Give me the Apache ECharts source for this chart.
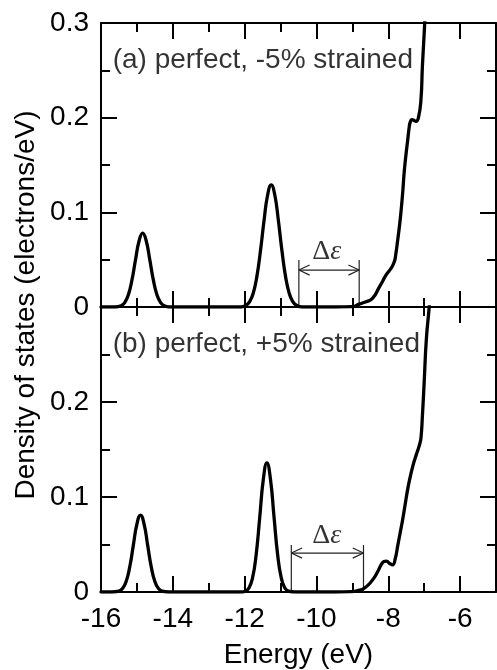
<!DOCTYPE html>
<html><head><meta charset="utf-8">
<script src="https://cdn.jsdelivr.net/npm/echarts@6/dist/echarts.min.js"></script>
<style>html,body{margin:0;padding:0;background:#fff}#c{width:497px;height:670px}</style>
</head><body><div id="c"></div>
<script>
// ---- data ----
const xMin = -16, xMax = -5;
const yMin = 0, yMax = 0.3;
const xTitle = 'Energy (eV)';
const yTitle = 'Density of states (electrons/eV)';
const panelLabels = ['(a) perfect, -5% strained', '(b) perfect, +5% strained'];

const energyA = [-16, -15.6, -15.44, -15.34, -15.24, -15.14, -15.04, -14.94, -14.84, -14.74, -14.64, -14.54, -14.44, -14.34, -14.24, -14.1,
  -12.1, -11.96, -11.86, -11.76, -11.66, -11.56, -11.46, -11.36, -11.26, -11.16, -11.06, -10.96, -10.86, -10.76, -10.66, -10.56, -10.4,
  -9.5, -9.0, -8.81, -8.62, -8.44, -8.25, -8.16, -8.06, -7.92, -7.83, -7.79, -7.74, -7.69, -7.65, -7.6, -7.56, -7.51, -7.46, -7.42, -7.39,
  -7.34, -7.28, -7.23, -7.16, -7.09, -7.05, -7.0, -6.96, -6.9];
const dosA = [0, 0, 0.0013, 0.0046, 0.0127, 0.0281, 0.0496, 0.0697, 0.078, 0.0697, 0.0496, 0.0281, 0.0127, 0.0046, 0.0013, 0,
  0, 0.0018, 0.0057, 0.0147, 0.0321, 0.0591, 0.0912, 0.1183, 0.129, 0.1183, 0.0912, 0.0591, 0.0321, 0.0147, 0.0057, 0.0018, 0,
  0, 0.0005, 0.003, 0.0056, 0.009, 0.021, 0.027, 0.034, 0.041, 0.048, 0.056, 0.07, 0.085, 0.099, 0.12, 0.141, 0.16, 0.176, 0.189, 0.195,
  0.198, 0.197, 0.196, 0.2, 0.219, 0.254, 0.289, 0.32, 0.37];

const energyB = [-16, -15.7, -15.5, -15.4, -15.3, -15.2, -15.1, -15.0, -14.9, -14.8, -14.7, -14.6, -14.5, -14.4, -14.3, -14.1,
  -12.1, -11.98, -11.88, -11.78, -11.68, -11.58, -11.48, -11.38, -11.28, -11.18, -11.08, -10.98, -10.88, -10.78, -10.6,
  -9.5, -9.0, -8.8, -8.71, -8.57, -8.43, -8.3, -8.2, -8.12, -8.05, -7.96, -7.88, -7.8, -7.74, -7.67, -7.6, -7.53, -7.46, -7.39,
  -7.32, -7.25, -7.19, -7.13, -7.09, -7.05, -7.0, -6.94, -6.86, -6.8];
const dosB = [0, 0, 0.0009, 0.0036, 0.011, 0.0263, 0.0491, 0.0715, 0.081, 0.0715, 0.0491, 0.0263, 0.011, 0.0036, 0.0009, 0,
  0, 0.0009, 0.0043, 0.0148, 0.039, 0.0782, 0.1184, 0.136, 0.1184, 0.0782, 0.039, 0.0148, 0.0043, 0.0009, 0,
  0, 0.0005, 0.002, 0.003, 0.007, 0.013, 0.021, 0.0285, 0.032, 0.0325, 0.03, 0.0285, 0.036, 0.048, 0.062, 0.076, 0.092, 0.108, 0.121,
  0.132, 0.141, 0.148, 0.155, 0.162, 0.185, 0.221, 0.266, 0.30, 0.33];

// gap annotation (energies of the two bars, arrow height, bar height, label position)
const gapA = [-10.49, -8.81], arrowYA = 0.039;
const gapB = [-10.7, -8.69], arrowYB = 0.041;
const gapBarTop = 0.0496;
const gapLabelPos = [[-9.71, 0.059], [-9.71, 0.059]];
const panelLabelPos = [[-15.69, 0.261], [-15.69, 0.261]];

// ---- chart ----
const FAMILY = 'Liberation Sans';
const FONT = '"Liberation Sans", Arial, sans-serif';
const SERIF = '"Liberation Serif", "Times New Roman", serif';
const zip = (a, b) => a.map((v, i) => [v, b[i]]);
const blk = '#000';

function xAx(grid, pos, major, labels) {
  return {
    type: 'value', gridIndex: grid, position: pos, min: xMin, max: xMax,
    interval: major ? 2 : 1,
    axisLine: { show: major, onZero: false, lineStyle: { color: blk, width: 2 } },
    axisTick: { show: true, inside: true, length: major ? 16 : 9, lineStyle: { color: blk, width: 2 } },
    axisLabel: { show: labels, color: blk, fontSize: 28, fontFamily: FONT, margin: 13, showMaxLabel: false },
    splitLine: { show: false },
    name: labels ? xTitle : '', nameLocation: 'middle', nameGap: 49,
    nameTextStyle: { color: blk, fontSize: 28, fontFamily: FONT }
  };
}
function yAx(grid, pos, labels, showMax) {
  return {
    type: 'value', gridIndex: grid, position: pos, min: yMin, max: yMax, interval: 0.1,
    axisLine: { show: true, onZero: false, lineStyle: { color: blk, width: 2 } },
    axisTick: { show: true, inside: true, length: 16, lineStyle: { color: blk, width: 2 } },
    minorTick: { show: true, splitNumber: 2, length: 9, lineStyle: { color: blk, width: 2 } },
    axisLabel: { show: labels, color: blk, fontSize: 28, fontFamily: FONT, margin: 12, showMaxLabel: showMax },
    splitLine: { show: false }, minorSplitLine: { show: false }
  };
}

function gapSeries(xi, yi, gap, ay) {
  const head = 0.3, hh = 0.0053;
  const ls = { color: '#222', width: 1.2 };
  const mk = d => ({ type: 'line', xAxisIndex: xi, yAxisIndex: yi, data: d, symbol: 'none', lineStyle: ls, silent: true, animation: false });
  return [
    mk([[gap[0], 0], [gap[0], gapBarTop]]),
    mk([[gap[1], 0], [gap[1], gapBarTop]]),
    mk([[gap[0], ay], [gap[1], ay]]),
    mk([[gap[0] + head, ay + hh], [gap[0], ay], [gap[0] + head, ay - hh]]),
    mk([[gap[1] - head, ay + hh], [gap[1], ay], [gap[1] - head, ay - hh]])
  ];
}
function textSeries(xi, yi, pos, fmt, rich, position) {
  return {
    type: 'scatter', xAxisIndex: xi, yAxisIndex: yi, data: [pos], symbolSize: 1,
    itemStyle: { color: 'rgba(0,0,0,0)' }, silent: true, animation: false,
    label: { show: true, position: position, distance: 0, formatter: fmt, color: blk,
      fontSize: 28, fontFamily: FONT, rich: rich }
  };
}
const deltaRich = {
  d: { fontFamily: SERIF, fontSize: 28, color: blk },
  e: { fontFamily: SERIF, fontSize: 28, fontStyle: 'italic', color: blk }
};

const curve = (xi, yi, e, d) => ({
  type: 'line', xAxisIndex: xi, yAxisIndex: yi, data: zip(e, d), symbol: 'none',
  smooth: 0.5, lineStyle: { color: blk, width: 3.3, join: 'round', cap: 'round' }, clip: true, animation: false, z: 5
});

const chart = echarts.init(document.getElementById('c'), null, { renderer: 'canvas' });
chart.setOption({
  backgroundColor: '#fff',
  animation: false,
  grid: [
    { left: 101, right: 1, top: 23, height: 284 },
    { left: 101, right: 1, top: 307, height: 285 }
  ],
  xAxis: [
    xAx(0, 'bottom', true, false), xAx(0, 'bottom', false, false),
    xAx(0, 'top', true, false), xAx(0, 'top', false, false),
    xAx(1, 'bottom', true, true), xAx(1, 'bottom', false, false),
    xAx(1, 'top', true, false), xAx(1, 'top', false, false)
  ],
  yAxis: [
    yAx(0, 'left', true, true), yAx(0, 'right', false, true),
    yAx(1, 'left', true, false), yAx(1, 'right', false, false)
  ],
  graphic: [{
    type: 'text', x: 26, y: 305, rotation: Math.PI / 2,
    style: { text: yTitle, fontSize: 28, fontFamily: FAMILY, fill: blk, align: 'center', verticalAlign: 'middle' }
  }],
  series: [
    curve(0, 0, energyA, dosA),
    curve(4, 2, energyB, dosB),
    ...gapSeries(0, 0, gapA, arrowYA),
    ...gapSeries(4, 2, gapB, arrowYB),
    textSeries(0, 0, gapLabelPos[0], '{d|Δ}{e|ε}', deltaRich, 'inside'),
    textSeries(4, 2, gapLabelPos[1], '{d|Δ}{e|ε}', deltaRich, 'inside'),
    textSeries(0, 0, panelLabelPos[0], panelLabels[0], null, 'right'),
    textSeries(4, 2, panelLabelPos[1], panelLabels[1], null, 'right')
  ]
});
</script></body></html>
